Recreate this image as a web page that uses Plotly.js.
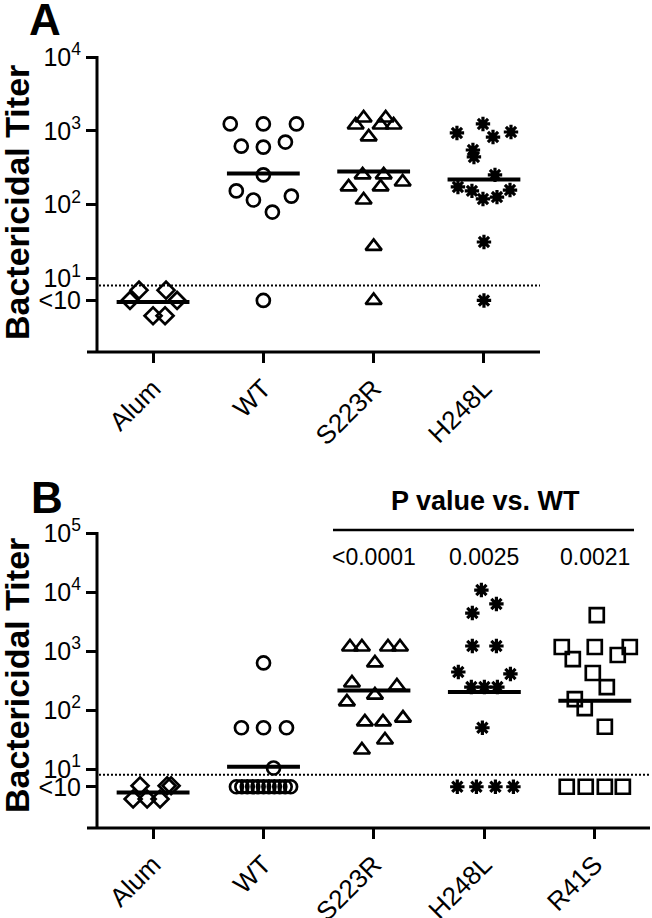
<!DOCTYPE html>
<html>
<head>
<meta charset="utf-8">
<script src="https://cdn.plot.ly/plotly-3.0.1.min.js"></script>
<style>html,body{margin:0;padding:0;background:#fff;}#chart{width:652px;height:918px;}</style>
</head>
<body>
<div id="chart"></div>
<script>
// ---------- DATA ----------
const groupsA = ['Alum', 'WT', 'S223R', 'H248L'];
const groupsB = ['Alum', 'WT', 'S223R', 'H248L', 'R41S'];
const yTickVals = [5, 10, 100, 1000, 10000, 100000];
const yTickText = ['&lt;10', '10<sup>1</sup>', '10<sup>2</sup>', '10<sup>3</sup>', '10<sup>4</sup>', '10<sup>5</sup>'];
const detectionLimit = 8;
const pValueTitle = 'P value vs. WT';
const pValueGroups = ['S223R', 'H248L', 'R41S'];
const pValues = ['<0.0001', '0.0025', '0.0021'];

// Panel A titers and horizontal scatter offsets (category units)
const A_alum = [6.9, 6.9, 5, 5, 3.1, 3.1];
const A_alum_dx = [-0.127, 0.118, -0.209, 0.218, 0, 0.109];
const A_wt = [1236, 1236, 1236, 617, 600, 703, 252, 153, 115, 130, 79, 5];
const A_wt_dx = [-0.30, 0, 0.30, -0.20, 0, 0.20, 0, -0.245, -0.09, 0.254, 0.082, 0];
const A_s223r = [1197, 1489, 1197, 1489, 1197, 826, 252, 252, 173, 173, 202, 115, 27, 5];
const A_s223r_dx = [-0.163, -0.091, 0.063, 0.109, 0.181, -0.045, -0.10, 0.091, -0.227, 0.063, 0.263, -0.091, 0, 0];
const A_h248l = [933, 1236, 822, 961, 548, 441, 252, 173, 153, 119, 126, 157, 31, 5];
const A_h248l_dx = [-0.245, -0.009, 0.082, 0.245, -0.10, -0.091, 0.10, -0.236, -0.109, -0.009, 0.118, 0.236, 0, 0];

// Panel B
const B_alum = [5.2, 5.2, 5.2, 3.1, 3.1, 3.1];
const B_alum_dx = [-0.118, 0.127, 0.163, -0.181, -0.054, 0.063];
const B_wt = [627, 50, 50, 50, 10.4, 5, 5, 5, 5, 5, 5, 5, 5, 5, 5, 5];
const B_wt_dx = [0, -0.2, 0, 0.208, 0.091, -0.245, -0.196, -0.147, -0.098, -0.049, 0, 0.049, 0.098, 0.147, 0.196, 0.245];
const B_s223r = [1170, 1170, 1170, 1170, 627, 287, 255, 179, 137, 63, 63, 73, 31, 21];
const B_s223r_dx = [-0.217, -0.109, 0.127, 0.236, 0.009, -0.199, 0.208, 0.009, -0.245, -0.082, 0.082, 0.263, 0.1, -0.109];
const B_h248l = [10800, 6270, 4400, 1216, 1216, 441, 408, 245, 245, 245, 50, 5, 5, 5, 5];
const B_h248l_dx = [-0.027, 0.109, -0.109, -0.109, 0.109, -0.236, 0.236, -0.118, 0, 0.118, -0.018, -0.245, -0.072, 0.1, 0.263];
const B_r41s = [4070, 1170, 1170, 1170, 731, 855, 424, 245, 153, 108, 52, 5, 5, 5, 5];
const B_r41s_dx = [0.018, -0.299, 0, 0.317, -0.199, 0.208, -0.018, 0.109, -0.181, -0.091, 0.091, -0.254, -0.082, 0.091, 0.254];

// ---------- STYLE ----------
const FONT = 'Arial, "Liberation Sans", Helvetica, sans-serif';
const W = 652, H = 918;
const px = v => v / W;
const py = v => 1 - v / H;

const symbols = {
  'Alum': {symbol: 'diamond-open', size: 13},
  'WT': {symbol: 'circle-open', size: 13},
  'S223R': {symbol: 'triangle-up-open', size: 14},
  'H248L': {symbol: 'asterisk-open', size: 12},
  'R41S': {symbol: 'square-open', size: 14}
};

function geoMean(arr) {
  return Math.pow(10, arr.reduce((s, v) => s + Math.log10(v), 0) / arr.length);
}

const traces = [];
function addGroup(name, idx, vals, dx, xa, ya) {
  const s = symbols[name];
  traces.push({
    type: 'scatter', mode: 'markers', xaxis: xa, yaxis: ya,
    x: dx.map(d => idx + d), y: vals, cliponaxis: false,
    marker: {symbol: s.symbol, size: s.size, color: 'black',
      line: {color: 'black', width: name === 'H248L' ? 3.2 : 2.7}},
    hoverinfo: 'skip'
  });
  const gm = geoMean(vals);
  traces.push({
    type: 'scatter', mode: 'lines', xaxis: xa, yaxis: ya,
    x: [idx - 0.33, idx + 0.33], y: [gm, gm],
    line: {color: 'black', width: 4}, hoverinfo: 'skip'
  });
}

// dotted detection limit lines
traces.push({type: 'scatter', mode: 'lines', xaxis: 'x', yaxis: 'y',
  x: [-0.49, groupsA.length - 0.492], y: [detectionLimit, detectionLimit],
  line: {color: 'black', width: 2, dash: '2px,2px'}, hoverinfo: 'skip'});
traces.push({type: 'scatter', mode: 'lines', xaxis: 'x2', yaxis: 'y2',
  x: [-0.49, groupsB.length - 0.5], y: [detectionLimit, detectionLimit],
  line: {color: 'black', width: 2, dash: '2px,2px'}, hoverinfo: 'skip'});

addGroup('Alum', 0, A_alum, A_alum_dx, 'x', 'y');
addGroup('WT', 1, A_wt, A_wt_dx, 'x', 'y');
addGroup('S223R', 2, A_s223r, A_s223r_dx, 'x', 'y');
addGroup('H248L', 3, A_h248l, A_h248l_dx, 'x', 'y');

addGroup('Alum', 0, B_alum, B_alum_dx, 'x2', 'y2');
addGroup('WT', 1, B_wt, B_wt_dx, 'x2', 'y2');
addGroup('S223R', 2, B_s223r, B_s223r_dx, 'x2', 'y2');
addGroup('H248L', 3, B_h248l, B_h248l_dx, 'x2', 'y2');
addGroup('R41S', 4, B_r41s, B_r41s_dx, 'x2', 'y2');

// panel geometry (pixels)
const PA = {l: 97, r: 540, t: 57, b: 352, xl: 87};
const PB = {l: 97, r: 650, t: 533, b: 828, xl: 87};

function xAxis(groups, P, anchor) {
  return {
    domain: [px(P.l), px(P.r)], anchor: anchor,
    range: [-0.508, groups.length - 0.5 + (groups.length === 4 ? 0.008 : 0)],
    tickmode: 'array', tickvals: groups.map((g, i) => i), ticktext: groups,
    tickangle: -45, ticks: 'outside', ticklen: 10, tickwidth: 3, tickcolor: 'black',
    showline: false, showgrid: false, zeroline: false,
    tickfont: {family: FONT, size: 26, color: 'black'}, fixedrange: true
  };
}
function yAxis(P, anchor, top) {
  return {
    domain: [py(P.b), py(P.t)], anchor: anchor, type: 'log', range: [0, top],
    tickmode: 'array', tickvals: yTickVals, ticktext: yTickText,
    ticks: 'outside', ticklen: 10, tickwidth: 3, tickcolor: 'black',
    showline: false, showgrid: false, zeroline: false,
    tickfont: {family: FONT, size: 25, color: 'black'}, fixedrange: true
  };
}

const shapes = [];
[PA, PB].forEach(P => {
  shapes.push({type: 'line', xref: 'paper', yref: 'paper', x0: px(P.xl), x1: px(P.r), y0: py(P.b), y1: py(P.b), line: {color: 'black', width: 3}});
  shapes.push({type: 'line', xref: 'paper', yref: 'paper', x0: px(P.l), x1: px(P.l), y0: py(P.b), y1: py(P.t - 1), line: {color: 'black', width: 3}});
});
// P value bracket line
shapes.push({type: 'line', xref: 'paper', yref: 'paper', x0: px(333), x1: px(634), y0: py(530), y1: py(530), line: {color: 'black', width: 2.5}});

const esc = s => s.replace(/</g, '&lt;');
const annotations = [
  {text: '<b>A</b>', x: px(45), y: py(19), xref: 'paper', yref: 'paper', showarrow: false, xanchor: 'center', yanchor: 'middle', font: {family: FONT, size: 44, color: 'black'}},
  {text: '<b>B</b>', x: px(47), y: py(498), xref: 'paper', yref: 'paper', showarrow: false, xanchor: 'center', yanchor: 'middle', font: {family: FONT, size: 44, color: 'black'}},
  {text: '<b>Bactericidal Titer</b>', x: px(17), y: py(203), xref: 'paper', yref: 'paper', showarrow: false, textangle: -90, xanchor: 'center', yanchor: 'middle', font: {family: FONT, size: 34, color: 'black'}},
  {text: '<b>Bactericidal Titer</b>', x: px(17), y: py(676), xref: 'paper', yref: 'paper', showarrow: false, textangle: -90, xanchor: 'center', yanchor: 'middle', font: {family: FONT, size: 34, color: 'black'}},
  {text: '<b>' + esc(pValueTitle) + '</b>', x: px(485), y: py(501), xref: 'paper', yref: 'paper', showarrow: false, xanchor: 'center', yanchor: 'middle', font: {family: FONT, size: 27, color: 'black'}}
];
pValueGroups.forEach((g, i) => {
  annotations.push({text: esc(pValues[i]), x: groupsB.indexOf(g), xref: 'x2', y: py(557), yref: 'paper', showarrow: false, xanchor: 'center', yanchor: 'middle', font: {family: FONT, size: 23, color: 'black'}});
});

const layout = {
  width: W, height: H, margin: {l: 0, r: 0, t: 0, b: 0},
  paper_bgcolor: 'white', plot_bgcolor: 'white', showlegend: false,
  xaxis: xAxis(groupsA, PA, 'y'), yaxis: yAxis(PA, 'x', 4),
  xaxis2: xAxis(groupsB, PB, 'y2'), yaxis2: yAxis(PB, 'x2', 5),
  shapes: shapes, annotations: annotations, font: {family: FONT, color: 'black'}
};

Plotly.newPlot('chart', traces, layout, {staticPlot: true, displayModeBar: false});
</script>
</body>
</html>
